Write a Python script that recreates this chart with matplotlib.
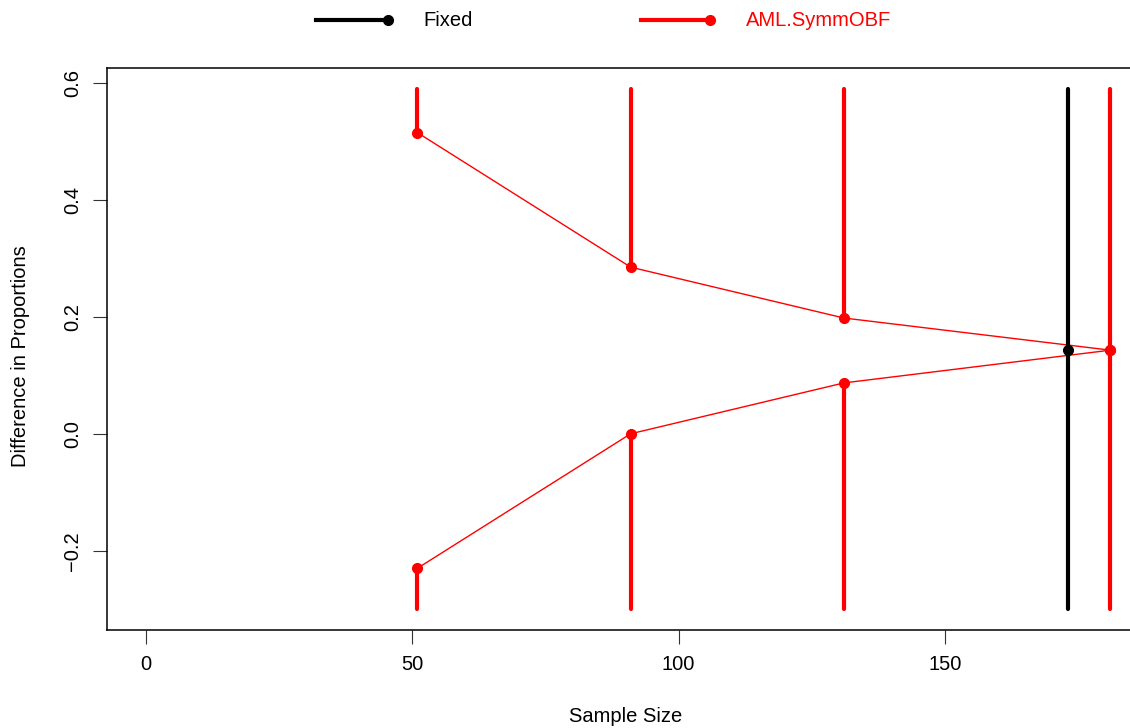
"""Stopping boundaries for a fixed design and an AML.SymmOBF group sequential design
"""
import matplotlib.pyplot as plt
from matplotlib.lines import Line2D

plt.rcParams['font.family'] = ['Liberation Sans', 'DejaVu Sans']

# Sample size at each analysis
fixed_n = [173]
fixed_bound = [0.143]

obf_n = [51, 91, 131, 181]
obf_upper = [0.515, 0.285, 0.198, 0.143]
obf_lower = [-0.230, 0.000, 0.087, 0.143]

# Extent of the rejection regions drawn as vertical bars
region_top = 0.59
region_bottom = -0.30

x_ticks = [0, 50, 100, 150]
y_ticks = [-0.2, 0.0, 0.2, 0.4, 0.6]

FS = 14.5

fig = plt.figure(figsize=(11.3, 7.28), dpi=100)
W, H = 1130, 728
ax = fig.add_axes([107 / W, (H - 630) / H, (1149 - 107) / W, (630 - 68) / H])

# Fixed design: single analysis
for n, b in zip(fixed_n, fixed_bound):
    ax.plot([n, n], [region_bottom, region_top], color='black', lw=3,
            solid_capstyle='round', zorder=3)
    ax.plot([n], [b], 'o', color='black', ms=7, zorder=4)

# Group sequential design
red = '#ff0000'
ax.plot(obf_n, obf_upper, color=red, lw=1, zorder=2)
ax.plot(obf_n, obf_lower, color=red, lw=1, zorder=2)
for n, up, lo in zip(obf_n, obf_upper, obf_lower):
    ax.plot([n, n], [up, region_top], color=red, lw=3,
            solid_capstyle='round', zorder=3)
    ax.plot([n, n], [region_bottom, lo], color=red, lw=3,
            solid_capstyle='round', zorder=3)
ax.plot(obf_n, obf_upper, 'o', color=red, ms=7, zorder=4)
ax.plot(obf_n, obf_lower, 'o', color=red, ms=7, zorder=4)

span = max(obf_n + fixed_n)
ax.set_xlim(-0.04 * span, 1.04 * span)
yr = region_top - region_bottom
ax.set_ylim(region_bottom - 0.04 * yr, region_top + 0.04 * yr)

ax.set_xticks(x_ticks)
ax.set_yticks(y_ticks)
ax.set_yticklabels([('\u22120.2' if v < 0 else f'{v:.1f}') for v in y_ticks])
ax.tick_params(axis='both', length=10, width=0.8, labelsize=FS, color='#333333')
ax.tick_params(axis='x', pad=8)
ax.tick_params(axis='y', pad=8)
plt.setp(ax.get_yticklabels(), rotation=90, va='center', ha='right')

for side in ['left', 'bottom', 'top', 'right']:
    ax.spines[side].set_linewidth(1.1)

ax.set_xlabel('Sample Size', fontsize=FS)
ax.xaxis.set_label_coords((626 - 107) / 1042, -(716 - 630) / 562)
ax.xaxis.label.set_va('center')
ax.set_ylabel('Difference in Proportions', fontsize=FS)
ax.yaxis.set_label_coords(-(107 - 21) / 1042, (630 - 356) / 562)
ax.yaxis.label.set_va('center')

# Legend drawn above the plot region
legend_y = 1 - 20 / H
for x0, x1, col, label, tx in [(316, 388, 'black', 'Fixed', 423),
                                (641, 710, red, 'AML.SymmOBF', 746)]:
    fig.add_artist(Line2D([x0 / W, x1 / W], [legend_y, legend_y],
                          color=col, lw=3, transform=fig.transFigure))
    fig.add_artist(Line2D([x1 / W], [legend_y], marker='o', ms=7, color=col,
                          transform=fig.transFigure))
    fig.text(tx / W, legend_y, label, color=col, fontsize=FS,
             ha='left', va='center')

fig.savefig('out.png', dpi=100)
